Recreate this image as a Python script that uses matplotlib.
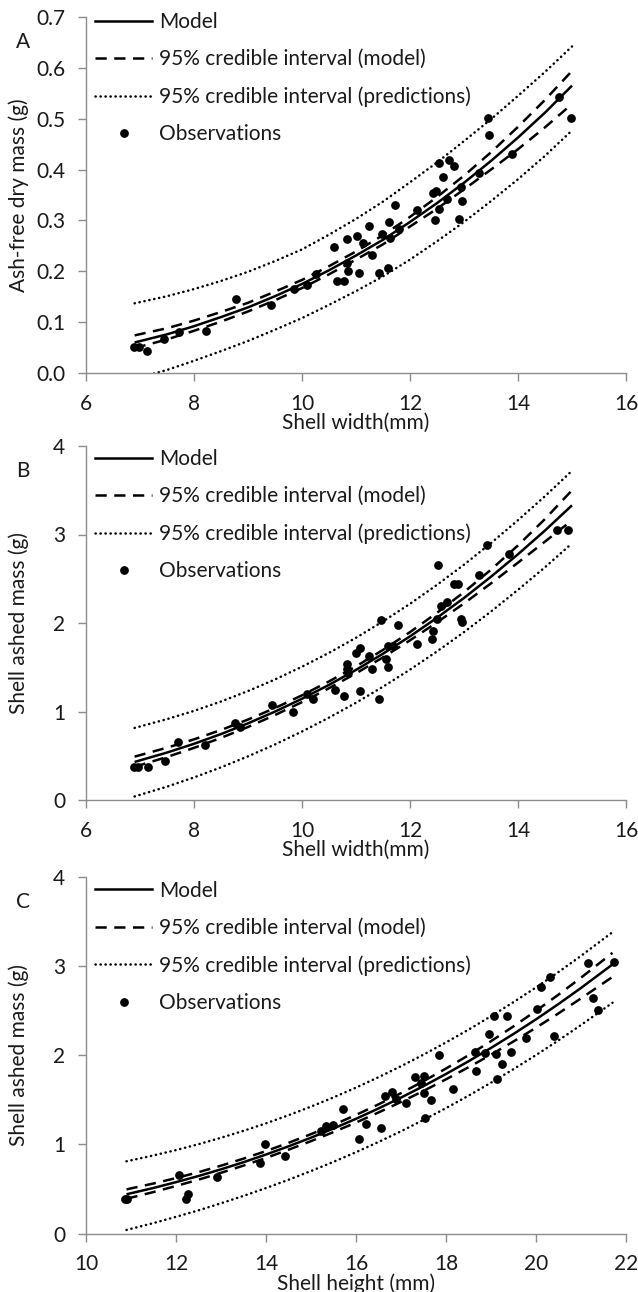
import matplotlib
matplotlib.use('Agg')
import matplotlib.pyplot as plt
from matplotlib.lines import Line2D

plt.rcParams['font.family'] = ['Lato', 'DejaVu Sans']

# panel A: ash-free dry mass vs shell width
a_x = [6.9, 7.5, 8, 8.5, 9, 9.5, 10, 10.5, 11, 11.5, 12, 12.5, 13, 13.5, 14, 14.5, 15]
a_model = [0.060, 0.076, 0.092, 0.110, 0.129, 0.151, 0.175, 0.202, 0.231, 0.262, 0.297, 0.334, 0.374, 0.417, 0.463, 0.512, 0.565]
a_ci_hi = [0.074, 0.088, 0.103, 0.120, 0.138, 0.160, 0.183, 0.210, 0.239, 0.271, 0.307, 0.346, 0.388, 0.434, 0.484, 0.537, 0.594]
a_ci_lo = [0.049, 0.066, 0.083, 0.101, 0.121, 0.143, 0.167, 0.194, 0.223, 0.253, 0.288, 0.323, 0.361, 0.400, 0.440, 0.483, 0.529]
a_pi_hi = [0.137, 0.151, 0.165, 0.181, 0.199, 0.220, 0.243, 0.272, 0.303, 0.337, 0.375, 0.414, 0.456, 0.499, 0.545, 0.592, 0.642]
a_pi_lo = [-0.012, 0.006, 0.024, 0.043, 0.063, 0.085, 0.108, 0.134, 0.161, 0.190, 0.223, 0.259, 0.297, 0.338, 0.381, 0.427, 0.477]
a_obs_x = [6.89, 6.99, 7.13, 7.44, 7.72, 8.22, 8.78, 9.43, 9.85, 10.1, 10.26, 10.6, 10.64, 10.77,
           10.84, 10.83, 10.86, 11.01, 11.06, 11.13, 11.24, 11.29, 11.43, 11.49, 11.6, 11.62, 11.63,
           11.72, 11.8, 12.13, 12.42, 12.46, 12.48, 12.53, 12.53, 12.61, 12.68, 12.73, 12.82, 12.9,
           12.94, 12.97, 13.28, 13.45, 13.47, 13.88, 14.76, 14.98]
a_obs_y = [0.051, 0.051, 0.044, 0.067, 0.080, 0.083, 0.145, 0.134, 0.165, 0.173, 0.195, 0.248, 0.180, 0.180,
           0.263, 0.216, 0.201, 0.269, 0.196, 0.255, 0.289, 0.232, 0.197, 0.273, 0.206, 0.297, 0.265,
           0.330, 0.284, 0.320, 0.353, 0.300, 0.358, 0.323, 0.412, 0.386, 0.343, 0.418, 0.408, 0.303,
           0.365, 0.339, 0.393, 0.501, 0.468, 0.430, 0.543, 0.501]

# panel B: shell ashed mass vs shell width
b_x = [6.9, 7.5, 8, 8.5, 9, 9.5, 10, 10.5, 11, 11.5, 12, 12.5, 13, 13.5, 14, 14.5, 15]
b_model = [0.430, 0.536, 0.635, 0.745, 0.866, 0.999, 1.144, 1.301, 1.470, 1.653, 1.849, 2.059, 2.283, 2.523, 2.777, 3.045, 3.330]
b_ci_hi = [0.490, 0.591, 0.685, 0.791, 0.909, 1.039, 1.183, 1.340, 1.510, 1.696, 1.897, 2.115, 2.349, 2.603, 2.877, 3.175, 3.500]
b_ci_lo = [0.375, 0.486, 0.589, 0.702, 0.825, 0.960, 1.106, 1.263, 1.431, 1.612, 1.804, 2.007, 2.221, 2.448, 2.682, 2.920, 3.160]
b_pi_hi = [0.814, 0.914, 1.007, 1.113, 1.231, 1.362, 1.506, 1.663, 1.833, 2.018, 2.217, 2.431, 2.659, 2.903, 3.162, 3.433, 3.720]
b_pi_lo = [0.040, 0.151, 0.255, 0.369, 0.493, 0.628, 0.774, 0.931, 1.099, 1.280, 1.473, 1.679, 1.897, 2.130, 2.375, 2.630, 2.900]
b_obs_x = [6.89, 6.97, 7.14, 7.46, 7.71, 8.21, 8.76, 8.86, 9.45, 9.84, 10.09, 10.21, 10.62, 10.78,
           10.83, 10.83, 10.85, 11.0, 11.08, 11.08, 11.24, 11.29, 11.42, 11.47, 11.55, 11.6, 11.6,
           11.68, 11.77, 12.13, 12.40, 12.42, 12.5, 12.52, 12.58, 12.68, 12.82, 12.88, 12.95, 12.97,
           13.28, 13.43, 13.84, 14.72, 14.93]
b_obs_y = [0.375, 0.375, 0.375, 0.443, 0.657, 0.619, 0.874, 0.826, 1.069, 1.0, 1.20, 1.145, 1.238, 1.18,
           1.54, 1.48, 1.43, 1.66, 1.715, 1.227, 1.625, 1.475, 1.144, 2.03, 1.595, 1.50, 1.737,
           1.745, 1.977, 1.764, 1.82, 1.914, 2.045, 2.653, 2.19, 2.232, 2.446, 2.446, 2.045, 2.007,
           2.54, 2.88, 2.78, 3.05, 3.05]

# panel C: shell ashed mass vs shell height
c_x = [10.9, 11.5, 12, 12.5, 13, 13.5, 14, 14.5, 15, 15.5, 16, 16.5, 17, 17.5, 18, 18.5, 19, 19.5, 20, 20.5, 21, 21.7]
c_model = [0.440, 0.511, 0.576, 0.645, 0.720, 0.800, 0.886, 0.978, 1.075, 1.178, 1.287, 1.403, 1.525, 1.654, 1.790, 1.932, 2.082, 2.239, 2.403, 2.575, 2.755, 3.019]
c_ci_hi = [0.495, 0.561, 0.622, 0.688, 0.761, 0.840, 0.925, 1.017, 1.115, 1.219, 1.330, 1.449, 1.575, 1.709, 1.851, 2.000, 2.158, 2.324, 2.498, 2.680, 2.870, 3.149]
c_ci_lo = [0.390, 0.465, 0.533, 0.604, 0.681, 0.762, 0.848, 0.940, 1.036, 1.138, 1.245, 1.358, 1.476, 1.600, 1.730, 1.865, 2.007, 2.155, 2.309, 2.470, 2.638, 2.879]
c_pi_hi = [0.810, 0.876, 0.936, 1.002, 1.074, 1.152, 1.236, 1.327, 1.424, 1.527, 1.637, 1.754, 1.877, 2.007, 2.144, 2.287, 2.438, 2.596, 2.761, 2.934, 3.115, 3.381]
c_pi_lo = [0.040, 0.117, 0.187, 0.260, 0.339, 0.422, 0.510, 0.603, 0.701, 0.804, 0.912, 1.027, 1.147, 1.274, 1.407, 1.546, 1.692, 1.844, 2.002, 2.167, 2.339, 2.589]
c_obs_x = [10.86, 10.92, 12.07, 12.22, 12.26, 12.92, 13.86, 13.97, 14.42, 15.22, 15.34, 15.49, 15.71,
           16.06, 16.23, 16.56, 16.64, 16.80, 16.89, 17.12, 17.31, 17.44, 17.52, 17.52, 17.53, 17.67,
           17.85, 18.15, 18.64, 18.67, 18.86, 18.96, 19.06, 19.10, 19.14, 19.24, 19.35, 19.45, 19.78,
           20.03, 20.39, 20.12, 20.3, 21.15, 21.73, 21.27, 21.38]
c_obs_y = [0.384, 0.39, 0.657, 0.384, 0.448, 0.634, 0.795, 1.0, 0.869, 1.149, 1.205, 1.213, 1.40,
           1.063, 1.23, 1.187, 1.541, 1.586, 1.511, 1.466, 1.754, 1.69, 1.765, 1.571, 1.299, 1.496,
           2.0, 1.623, 2.037, 1.828, 2.026, 2.239, 2.444, 2.015, 1.739, 1.907, 2.444, 2.037, 2.194,
           2.52, 2.22, 2.77, 2.88, 3.03, 3.05, 2.64, 2.51]

legend_labels = ['Model', '95% credible interval (model)', '95% credible interval (predictions)', 'Observations']

W, H = 638, 1292
fig = plt.figure(figsize=(W / 100, H / 100), dpi=100)

axis_grey = '#8c8c8c'
text_col = '#1a1a1a'
fs = 15
lw = 1.8
dash = (0, (4.5, 3))
dots = (0, (0.1, 1.9))


def panel(rect, letter, leg_y, xs, model, ci_hi, ci_lo, pi_hi, pi_lo, ox, oy,
          xlim, xticks, ylim, yticks, yfmt, xlabel, ylabel):
    left, top, right, bottom = rect
    ax = fig.add_axes([left / W, 1 - bottom / H, (right - left) / W, (bottom - top) / H])
    ax.plot(xs, model, color='black', lw=lw, solid_capstyle='butt')
    for y in (ci_hi, ci_lo):
        ax.plot(xs, y, color='black', lw=lw, linestyle=dash, dash_capstyle='butt')
    for y in (pi_hi, pi_lo):
        ax.plot(xs, y, color='black', lw=lw, linestyle=dots, dash_capstyle='round')
    ax.plot(ox, oy, 'o', color='black', markersize=6.3, markeredgewidth=0)

    ax.set_xlim(*xlim)
    ax.set_ylim(*ylim)
    ax.set_xticks(xticks)
    ax.set_yticks(yticks)
    ax.set_yticklabels([yfmt.format(v) for v in yticks])
    for s in ('top', 'right'):
        ax.spines[s].set_visible(False)
    for s in ('left', 'bottom'):
        ax.spines[s].set_color(axis_grey)
        ax.spines[s].set_linewidth(1.0)
    ax.tick_params(direction='out', length=5.5, width=1.0, color=axis_grey,
                   labelsize=fs, labelcolor=text_col, pad=9.5)
    ax.set_xlabel(xlabel, fontsize=fs, color=text_col, labelpad=-1)
    ax.set_ylabel(ylabel, fontsize=fs, color=text_col)
    ax.yaxis.set_label_coords(-0.106, 0.5)

    handles = [
        Line2D([], [], color='black', lw=lw),
        Line2D([], [], color='black', lw=lw, linestyle=dash),
        Line2D([], [], color='black', lw=lw, linestyle=dots, dash_capstyle='round'),
        Line2D([], [], color='black', marker='o', linestyle='none', markersize=6.3, markeredgewidth=0),
    ]
    ax.legend(handles, legend_labels, loc='upper left', bbox_to_anchor=(0.017, leg_y),
              frameon=False, fontsize=fs, handlelength=2.75, handletextpad=0.3,
              labelspacing=0.83, borderaxespad=0, borderpad=0, labelcolor=text_col)
    fig.text(23 / W, 1 - (top + 25) / H, letter, fontsize=fs, color=text_col,
             ha='center', va='center')
    return ax


panel((86, 17, 626, 373), 'A', 1.014, a_x, a_model, a_ci_hi, a_ci_lo, a_pi_hi, a_pi_lo, a_obs_x, a_obs_y,
      (6, 16), [6, 8, 10, 12, 14, 16], (0, 0.7), [0, 0.1, 0.2, 0.3, 0.4, 0.5, 0.6, 0.7], '{:.1f}',
      'Shell width(mm)', 'Ash-free dry mass (g)')
panel((86, 446, 626, 800), 'B', 0.992, b_x, b_model, b_ci_hi, b_ci_lo, b_pi_hi, b_pi_lo, b_obs_x, b_obs_y,
      (6, 16), [6, 8, 10, 12, 14, 16], (0, 4), [0, 1, 2, 3, 4], '{:.0f}',
      'Shell width(mm)', 'Shell ashed mass (g)')
panel((86, 877, 626, 1233.5), 'C', 0.99, c_x, c_model, c_ci_hi, c_ci_lo, c_pi_hi, c_pi_lo, c_obs_x, c_obs_y,
      (10, 22), [10, 12, 14, 16, 18, 20, 22], (0, 4), [0, 1, 2, 3, 4], '{:.0f}',
      'Shell height (mm)', 'Shell ashed mass (g)')

fig.savefig('out.png', dpi=100)
